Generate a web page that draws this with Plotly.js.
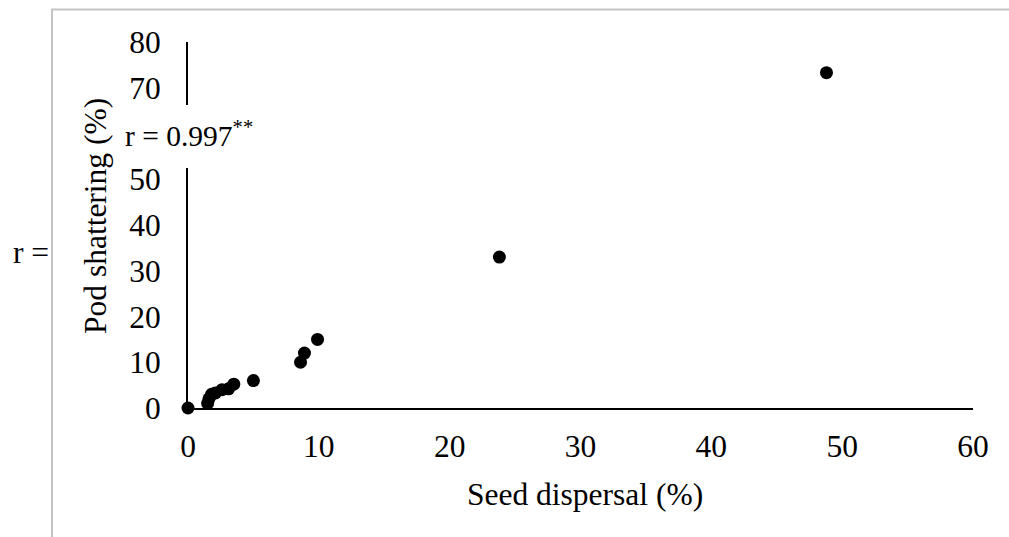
<!DOCTYPE html>
<html>
<head>
<meta charset="utf-8">
<script src="https://cdn.plot.ly/plotly-3.0.1.min.js"></script>
<style>html,body{margin:0;padding:0;background:#fff;}#chart{width:1009px;height:537px;}</style>
</head>
<body>
<div id="chart"></div>
<script>
const seedDispersal = [0, 1.5, 1.6, 1.8, 2.1, 2.6, 3.1, 3.5, 5.0, 8.6, 8.9, 9.9, 23.8, 48.8];
const podShattering = [0, 1.0, 2.0, 3.0, 3.3, 4.0, 4.2, 5.2, 6.0, 10.0, 12.0, 15.0, 33.0, 73.3];
const xTicks = [0, 10, 20, 30, 40, 50, 60];
const yTicks = [0, 10, 20, 30, 40, 50, 60, 70, 80];
const yTickHidden = [60]; // covered by the correlation text box in the original
const xTitle = 'Seed dispersal (%)';
const yTitle = 'Pod shattering (%)';
const corrLabel = 'r = 0.997<sup>**</sup>';
const strayLabel = 'r =';

const FONT = 'Liberation Serif, Times New Roman, serif';
const FS = 31.5;

const trace = {
  x: seedDispersal,
  y: podShattering,
  type: 'scatter',
  mode: 'markers',
  marker: {color: '#000', size: 13},
  cliponaxis: false,
  hoverinfo: 'x+y'
};

const layout = {
  width: 1009, height: 537,
  margin: {l: 188, r: 36, t: 42, b: 129, pad: 0},
  paper_bgcolor: '#fff', plot_bgcolor: '#fff',
  showlegend: false,
  font: {family: FONT, size: FS, color: '#000'},
  xaxis: {
    range: [0, 60], tickvals: xTicks, ticktext: xTicks.map(String),
    showgrid: false, zeroline: false, showline: true, linecolor: '#000', linewidth: 2,
    ticks: 'outside', ticklen: 9, tickcolor: 'rgba(0,0,0,0)',
    tickfont: {family: FONT, size: FS, color: '#000'}, fixedrange: true
  },
  yaxis: {
    range: [0, 80], tickvals: yTicks,
    ticktext: yTicks.map(v => yTickHidden.includes(v) ? '' : String(v)),
    showgrid: false, zeroline: false, showline: true, linecolor: '#000', linewidth: 2,
    ticks: 'outside', ticklen: 19, tickcolor: 'rgba(0,0,0,0)',
    tickfont: {family: FONT, size: FS, color: '#000'}, fixedrange: true
  },
  shapes: [
    {type: 'path', xref: 'paper', yref: 'paper', layer: 'below',
     path: 'M -0.17325 -0.36 L -0.17325 1.0888 L 1.05 1.0888',
     line: {color: '#c4c4c4', width: 2}},
    {type: 'rect', xref: 'paper', yref: 'paper', layer: 'above',
     x0: -0.093, x1: 0.0892, y0: 0.6557, y1: 0.8279,
     fillcolor: '#fff', line: {width: 0}}
  ],
  annotations: [
    {text: xTitle, xref: 'paper', yref: 'paper', x: 0.5051, y: -0.235,
     xanchor: 'center', yanchor: 'middle', showarrow: false,
     font: {family: FONT, size: FS, color: '#000'}},
    {text: yTitle, xref: 'paper', yref: 'paper', x: -0.1172, y: 0.5246, textangle: -90,
     xanchor: 'center', yanchor: 'middle', showarrow: false,
     font: {family: FONT, size: FS, color: '#000'}},
    {text: corrLabel, xref: 'paper', yref: 'paper', x: -0.0825, y: 0.7488,
     xanchor: 'left', yanchor: 'middle', showarrow: false,
     font: {family: FONT, size: 29.5, color: '#000'}},
    {text: strayLabel, xref: 'paper', yref: 'paper', x: -0.2255, y: 0.4262,
     xanchor: 'left', yanchor: 'middle', showarrow: false,
     font: {family: FONT, size: FS, color: '#000'}}
  ]
};

Plotly.newPlot('chart', [trace], layout, {displayModeBar: false, staticPlot: true});
</script>
</body>
</html>
